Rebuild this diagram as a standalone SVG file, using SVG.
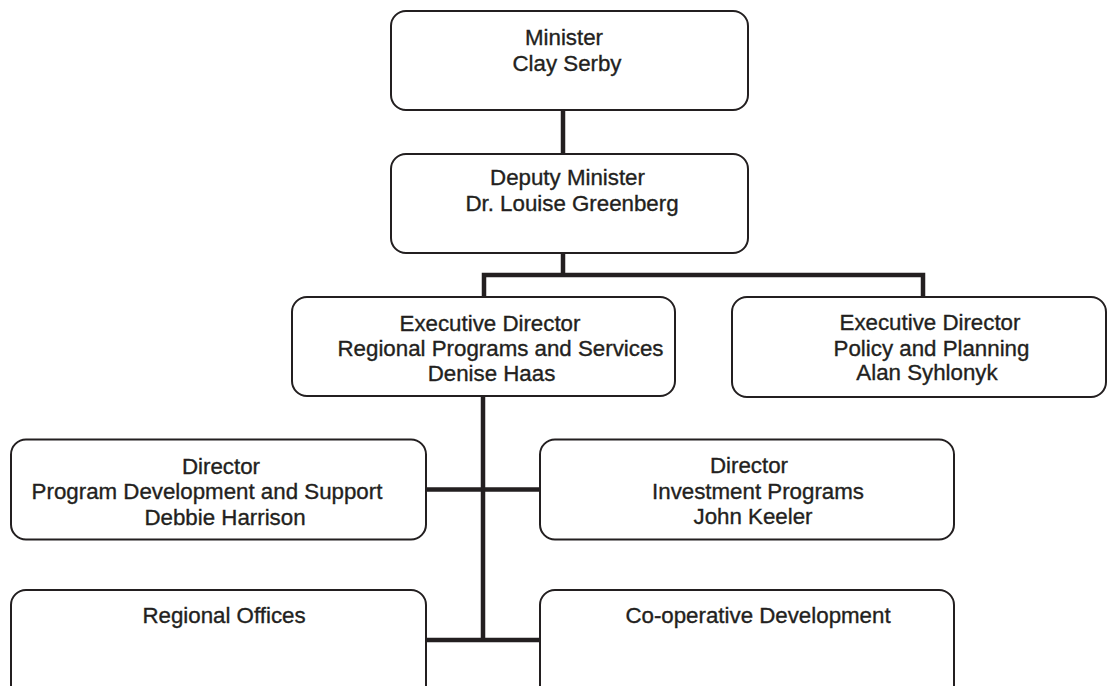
<svg xmlns="http://www.w3.org/2000/svg" width="1107" height="686" viewBox="0 0 1107 686">
<style>
.box{fill:#fff;stroke:#231f20;stroke-width:2}
.t{font-family:"Liberation Sans",Arial,sans-serif;font-size:22.3px;fill:#231f20;stroke:#231f20;stroke-width:0.35;text-anchor:middle}
.c{stroke:#231f20;stroke-width:4.5;fill:none;stroke-linecap:butt}
</style>
<rect width="1107" height="686" fill="#fff"/>
<g id="connectors">
<path class="c" d="M563,110 V155"/>
<path class="c" d="M563,253 V275 M484,297 V275 H923 V297"/>
<path class="c" d="M483,396 V642"/>
<path class="c" d="M426,489.5 H540 M426,640 H540"/>
</g>
<g id="minister">
<rect class="box" x="391" y="11" width="357" height="99" rx="15"/>
<text class="t" x="564" y="45">Minister</text>
<text class="t" x="567" y="71">Clay Serby</text>
</g>
<g id="deputy">
<rect class="box" x="391" y="154" width="357" height="99" rx="15"/>
<text class="t" x="567.5" y="185">Deputy Minister</text>
<text class="t" x="572" y="211">Dr. Louise Greenberg</text>
</g>
<g id="exec-rps">
<rect class="box" x="292" y="297" width="383" height="99" rx="15"/>
<text class="t" x="490" y="331">Executive Director</text>
<text class="t" x="500.5" y="356">Regional Programs and Services</text>
<text class="t" x="491.5" y="381">Denise Haas</text>
</g>
<g id="exec-pp">
<rect class="box" x="732" y="297" width="374" height="100" rx="15"/>
<text class="t" x="930" y="330">Executive Director</text>
<text class="t" x="931.5" y="356">Policy and Planning</text>
<text class="t" x="927" y="380">Alan Syhlonyk</text>
</g>
<g id="dir-pds">
<rect class="box" x="11" y="439.5" width="415" height="100" rx="15"/>
<text class="t" x="221" y="474">Director</text>
<text class="t" x="207" y="499">Program Development and Support</text>
<text class="t" x="225" y="525">Debbie Harrison</text>
</g>
<g id="dir-ip">
<rect class="box" x="540" y="439.5" width="414" height="100" rx="15"/>
<text class="t" x="749" y="473">Director</text>
<text class="t" x="758" y="498.5">Investment Programs</text>
<text class="t" x="753" y="524">John Keeler</text>
</g>
<g id="regional-offices">
<rect class="box" x="11" y="590" width="415" height="110" rx="15"/>
<text class="t" x="224" y="623">Regional Offices</text>
</g>
<g id="coop-dev">
<rect class="box" x="540" y="590" width="414" height="110" rx="15"/>
<text class="t" x="758" y="623">Co-operative Development</text>
</g>
</svg>
